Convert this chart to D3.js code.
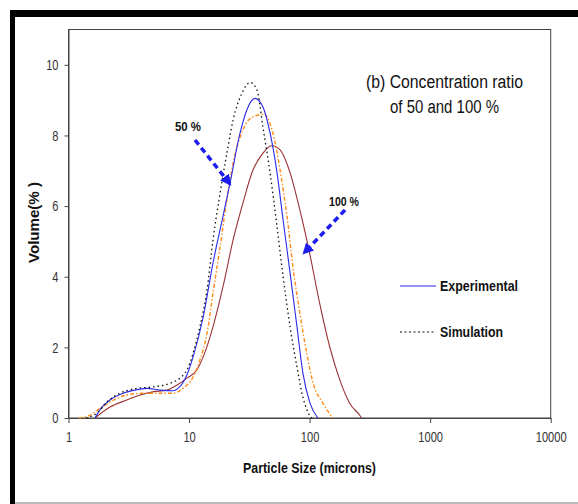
<!DOCTYPE html>
<html>
<head>
<meta charset="utf-8">
<script src="https://cdn.jsdelivr.net/npm/d3@7"></script>
<style>
  body { margin: 0; background: #fff; }
  text { font-family: "Liberation Sans", Arial, sans-serif; }
</style>
</head>
<body>
<div class="chart"></div>
<script>
// particle size (microns) / volume (%)
var expSize50 = [1.66, 1.82, 2.21, 2.83, 3.7, 4.47, 5.74, 7.36, 8.1, 9.6, 10.8, 13.1, 15.8, 19.1, 21.9, 26.5, 30.2, 35.2, 41.1, 47, 53.7, 60.3, 68.9, 78.6, 88, 100.7, 117];
var expVol50  = [0, 0.23, 0.51, 0.7, 0.8, 0.84, 0.79, 0.77, 0.84, 1.22, 1.73, 2.86, 4.39, 5.7, 6.66, 8.07, 8.73, 9.05, 8.8, 8.07, 6.94, 5.6, 4.1, 2.58, 1.27, 0.42, 0];

var simSize50 = [1.4, 1.72, 2.09, 2.67, 3.7, 5.0, 6.9, 8.4, 9.6, 10.8, 12.3, 14.1, 15.8, 18.1, 20.6, 23.2, 27.5, 32.1, 36.6, 41, 47, 53.7, 60.3, 68.9, 78.6, 88, 100, 104.5];
var simVol50  = [0, 0.14, 0.46, 0.7, 0.84, 0.88, 0.98, 1.13, 1.36, 1.83, 2.58, 3.63, 5.04, 6.37, 7.5, 8.44, 9.2, 9.5, 9.29, 8.24, 6.94, 5.41, 4.0, 2.58, 1.44, 0.59, 0.08, 0];

var expSize100 = [1.66, 2.21, 3.04, 3.92, 5.0, 6.55, 7.9, 9.6, 11.6, 13.1, 15.8, 19.1, 23.2, 28, 33.9, 40, 48.5, 56.9, 68.9, 83, 100, 121, 147, 178, 215, 260, 270];
var expVol100  = [0, 0.31, 0.51, 0.65, 0.74, 0.79, 0.93, 1.13, 1.36, 1.73, 2.58, 3.71, 5.04, 6.09, 7.02, 7.45, 7.71, 7.59, 6.94, 5.89, 4.67, 3.26, 2.01, 1.08, 0.42, 0.08, 0];

var simSize100 = [1.22, 1.51, 1.82, 2.34, 3.04, 4.15, 5.74, 7.36, 8.9, 10.8, 12.3, 14.1, 15.8, 18.1, 20.6, 23.2, 28, 33.9, 42, 49.6, 56.9, 65, 72.8, 83, 94.6, 106.9, 129, 155];
var simVol100  = [0, 0.08, 0.27, 0.5, 0.65, 0.7, 0.7, 0.7, 0.84, 1.16, 1.64, 2.4, 3.53, 4.85, 6.18, 7.22, 8.16, 8.53, 8.6, 8.07, 7.02, 5.7, 4.28, 2.97, 1.84, 0.99, 0.42, 0];

var xTicks = [1, 10, 100, 1000, 10000];
var yTicks = [0, 2, 4, 6, 8, 10];

var width = 578, height = 504;
var margin = {top: 29.5, right: 27.3, bottom: 86, left: 68.5};
var squeeze = 0.74; // the picture's lettering is narrow

var svg = d3.select(".chart").append("svg")
    .attr("width", width)
    .attr("height", height);

// frame around the picture (black top and left, grey bottom)
svg.append("rect").attr("x", 10).attr("y", 10).attr("width", width - 10).attr("height", 7).style("fill", "#000");
svg.append("rect").attr("x", 10).attr("y", 10).attr("width", 5).attr("height", height - 10).style("fill", "#000");
svg.append("line").attr("x1", 15).attr("x2", width).attr("y1", 503).attr("y2", 503)
    .style("stroke", "#777").style("stroke-width", 1);

var x = d3.scaleLog()
    .domain([1, 10000])
    .range([margin.left, width - margin.right]);

var y = d3.scaleLinear()
    .domain([0, 11])
    .range([height - margin.bottom, margin.top]);

// plot border
svg.append("rect")
    .attr("x", x(1)).attr("y", y(11))
    .attr("width", x(10000) - x(1)).attr("height", y(0) - y(11))
    .style("fill", "none").style("stroke", "#444").style("stroke-width", 1);

var xAxis = svg.append("g")
    .attr("transform", "translate(0," + y(0) + ")")
    .call(d3.axisBottom(x).tickValues(xTicks).tickFormat(d3.format("d")).tickSize(5).tickSizeOuter(0));

var yAxis = svg.append("g")
    .attr("transform", "translate(" + x(1) + ",0)")
    .call(d3.axisLeft(y).tickValues(yTicks).tickSize(4).tickSizeOuter(0));

[xAxis, yAxis].forEach(function(a) {
    a.select(".domain").style("stroke", "#444");
    a.selectAll(".tick line").style("stroke", "#444");
    a.selectAll(".tick text")
        .style("font-size", "15px")
        .style("fill", "#333")
        .style("font-family", "'Liberation Sans', Arial, sans-serif")
        .attr("transform", "scale(" + squeeze + ",1)");
});
xAxis.selectAll(".tick text").attr("y", 10).attr("dy", "0.95em");
yAxis.selectAll(".tick text").attr("x", -10 / squeeze);

var line = d3.line()
    .x(function(d) { return x(d[0]); })
    .y(function(d) { return y(d[1]); })
    .curve(d3.curveMonotoneX);

var series = [
    {size: expSize100, vol: expVol100, color: "#993333", dash: null, w: 1.1},
    {size: simSize100, vol: simVol100, color: "#ff8c1a", dash: "4,2,1.5,2", w: 1.4},
    {size: expSize50, vol: expVol50, color: "#2a2ae8", dash: null, w: 1.1},
    {size: simSize50, vol: simVol50, color: "#111", dash: "1.5,3", w: 1.3}
];

svg.selectAll(".curve")
    .data(series)
    .enter().append("path")
    .attr("class", "curve")
    .attr("d", function(s) { return line(d3.zip(s.size, s.vol)); })
    .style("fill", "none")
    .style("stroke", function(s) { return s.color; })
    .style("stroke-width", function(s) { return s.w; })
    .style("stroke-dasharray", function(s) { return s.dash; });

function label(tx, ty, txt, size, bold, len) {
    return svg.append("text").attr("x", tx).attr("y", ty)
        .attr("textLength", len).attr("lengthAdjust", "spacingAndGlyphs")
        .style("font-size", size + "px")
        .style("font-weight", bold ? "bold" : "normal")
        .style("fill", "#111")
        .text(txt);
}

// title
label(366, 88, "(b) Concentration ratio", 18, false, 157);
label(390, 113, "of 50 and 100 %", 18, false, 109);

// axis titles
label(243, 473, "Particle Size (microns)", 15, true, 133);
label(0, 0, "Volume(% )", 15, true, 81)
    .attr("transform", "translate(39,263) rotate(-90)");

// legend
var legend = [
    {label: "Experimental", color: "#2a2ae8", dash: null, yy: 286, len: 78},
    {label: "Simulation", color: "#111", dash: "2,2.5", yy: 332, len: 63}
];
legend.forEach(function(d) {
    svg.append("line").attr("x1", 400).attr("x2", 436).attr("y1", d.yy).attr("y2", d.yy)
        .style("stroke", d.color).style("stroke-width", 1.2).style("stroke-dasharray", d.dash);
    label(440, d.yy + 5, d.label, 14, true, d.len);
});

// annotations with dashed arrows
svg.append("defs").append("marker")
    .attr("id", "head")
    .attr("viewBox", "0 0 10 10")
    .attr("refX", 8).attr("refY", 5)
    .attr("markerWidth", 3.2).attr("markerHeight", 3.2)
    .attr("orient", "auto")
    .append("path").attr("d", "M0,0L10,5L0,10Z").style("fill", "#1c1cf0");

var notes = [
    {label: "50 %", tx: 175, ty: 131, len: 26, x1: 195, y1: 140, x2: 230, y2: 184},
    {label: "100 %", tx: 329, ty: 206, len: 30, x1: 345, y1: 210, x2: 304, y2: 253}
];
notes.forEach(function(n) {
    label(n.tx, n.ty, n.label, 13, true, n.len);
    svg.append("line")
        .attr("x1", n.x1).attr("y1", n.y1).attr("x2", n.x2).attr("y2", n.y2)
        .style("stroke", "#1c1cf0").style("stroke-width", 3.5)
        .style("stroke-dasharray", "6,4")
        .attr("marker-end", "url(#head)");
});
</script>
</body>
</html>
